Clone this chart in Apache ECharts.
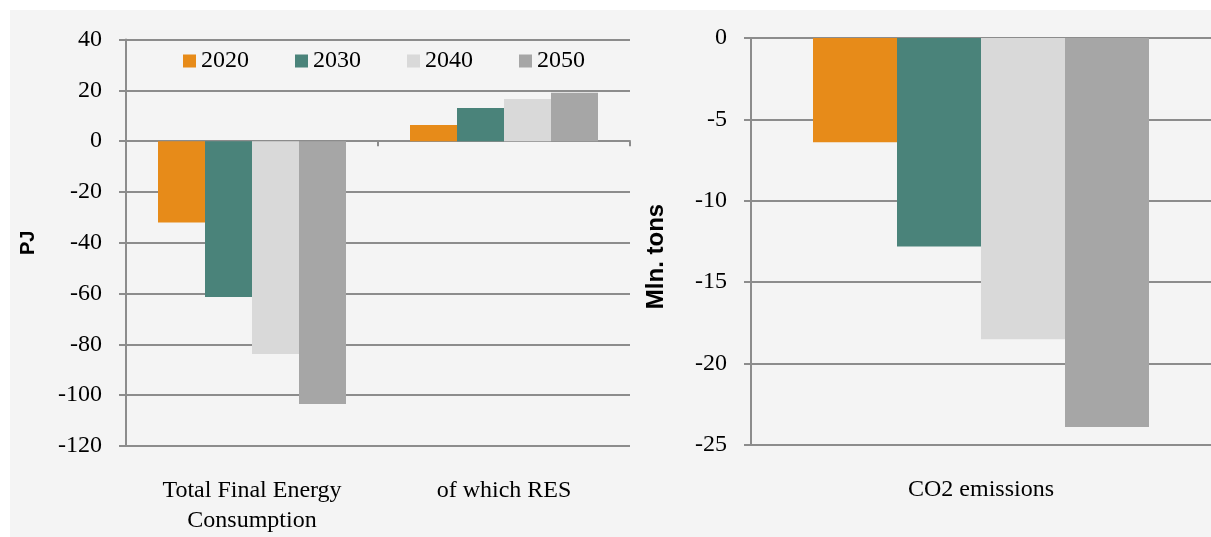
<!DOCTYPE html>
<html>
<head>
<meta charset="utf-8">
<script src="https://cdn.jsdelivr.net/npm/echarts@6/dist/echarts.min.js"></script>
<style>
  html, body { margin: 0; padding: 0; background: #fff; }
  #bg { position: absolute; left: 10px; top: 10px; right: 0; bottom: 0; background: #f4f4f4; }
  #main { position: absolute; left: 0; top: 0; width: 1211px; height: 537px; }
</style>
</head>
<body>
<div id="bg"></div>
<div id="main"></div>
<script>
// data
const years = ['2020', '2030', '2040', '2050'];
const energyCats = ['Total Final Energy\nConsumption', 'of which RES'];
const co2Cats = ['CO2 emissions'];
const tfec = [-32, -61.4, -83.8, -103.5];   // PJ
const res = [6.3, 13, 16.6, 19];           // PJ
const co2 = [-6.4, -12.8, -18.5, -23.9];    // Mln. tons
const yearColors = ['#e78b19', '#4a837a', '#d9d9d9', '#a6a6a6'];

const gridColor = '#8c8c8c';
const serif = '"Liberation Serif", "Times New Roman", serif';
const sans = '"Liberation Sans", Arial, sans-serif';

const myChart = echarts.init(document.getElementById('main'));

const series = [];
years.forEach((y, i) => {
  // left panel: energy
  series.push({
    name: y,
    type: 'bar',
    xAxisIndex: 0,
    yAxisIndex: 0,
    barWidth: 47,
    barGap: 0,
    itemStyle: { color: yearColors[i] },
    data: [tfec[i], res[i]],
  });
  // right panel: co2
  series.push({
    name: y,
    type: 'bar',
    xAxisIndex: 2,
    yAxisIndex: 1,
    barWidth: 84,
    barGap: 0,
    itemStyle: { color: yearColors[i] },
    data: [co2[i]],
  });
});

const valueAxisBase = {
  type: 'value',
  axisLine: { show: true, lineStyle: { color: gridColor, width: 2 } },
  axisTick: { show: true, length: 7, lineStyle: { color: gridColor, width: 2 } },
  axisLabel: { margin: 24, color: '#000', fontFamily: serif, fontSize: 24 },
  splitLine: { show: true, lineStyle: { color: gridColor, width: 2 } },
  nameLocation: 'middle',
  nameRotate: 90,
  nameTextStyle: { fontFamily: sans, fontWeight: 'bold', color: '#000' },
};

const option = {
  animation: false,
  legend: {
    left: 178,
    top: 44,
    itemWidth: 13,
    itemHeight: 13,
    itemGap: 46,
    icon: 'rect',
    data: years,
    textStyle: { fontFamily: serif, fontSize: 24, color: '#000' },
  },
  grid: [
    { left: 126, top: 39.5, width: 504, height: 406.5 },
    { left: 751, top: 38, right: 0, height: 407 },
  ],
  xAxis: [
    {
      // zero line with ticks between categories
      gridIndex: 0,
      type: 'category',
      data: energyCats,
      position: 'bottom',
      axisLine: { show: true, onZero: true, lineStyle: { color: gridColor, width: 2 } },
      axisTick: { show: true, length: 5, lineStyle: { color: gridColor, width: 2 } },
      axisLabel: { show: false },
    },
    {
      // category labels at the bottom
      gridIndex: 0,
      type: 'category',
      data: energyCats,
      position: 'bottom',
      axisLine: { show: false, onZero: false },
      axisTick: { show: false },
      axisLabel: { margin: 30, color: '#000', fontFamily: serif, fontSize: 24, lineHeight: 30 },
    },
    {
      gridIndex: 1,
      type: 'category',
      data: co2Cats,
      position: 'bottom',
      axisLine: { show: false, onZero: false },
      axisTick: { show: false },
      axisLabel: { margin: 30, color: '#000', fontFamily: serif, fontSize: 24, lineHeight: 30 },
    },
  ],
  yAxis: [
    Object.assign({}, valueAxisBase, {
      gridIndex: 0,
      min: -120,
      max: 40,
      interval: 20,
      name: 'PJ',
      nameGap: 88,
      nameTextStyle: Object.assign({}, valueAxisBase.nameTextStyle, { fontSize: 20 }),
    }),
    Object.assign({}, valueAxisBase, {
      gridIndex: 1,
      min: -25,
      max: 0,
      interval: 5,
      name: 'Mln. tons',
      nameGap: 83,
      nameTextStyle: Object.assign({}, valueAxisBase.nameTextStyle, { fontSize: 24, padding: [0, 30, 0, 0] }),
    }),
  ],
  series: series,
};

myChart.setOption(option);
</script>
</body>
</html>
